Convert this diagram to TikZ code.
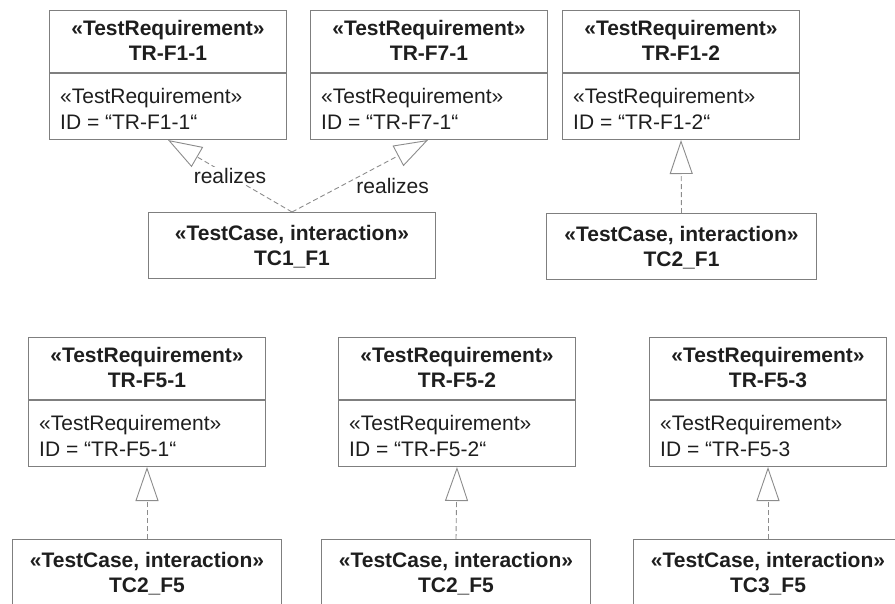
\documentclass[tikz,border=0pt]{standalone}
\usepackage{fontspec}
\setmainfont{Liberation Sans}
\usetikzlibrary{arrows.meta}
\definecolor{linegray}{HTML}{7F7F7F}
\definecolor{dashgray}{HTML}{8C8C8C}
\definecolor{txt}{HTML}{1E1E1E}
% requirement box: #1 name, #2 left x, #3 top y, #4 name line, #5 ID line
\newcommand\mkreq[5]{%
  \node[frame, minimum width=237pt, minimum height=62pt, anchor=north west] (#1h) at (#2,#3) {};
  \node[frame, minimum width=237pt, minimum height=66pt, anchor=north west] (#1) at (#1h.south west) {};
  \node[boldtxt] (#1a) at ([yshift=-25pt]#1h.north) {«TestRequirement»};
  \node[boldtxt] (#1b) at ([yshift=-50.5pt]#1h.north) {#4};
  \node[regtxt, anchor=base west] (#1c) at ([xshift=11pt,yshift=-30.5pt]#1.north west) {«TestRequirement»};
  \node[regtxt, anchor=base west] (#1d) at ([xshift=11pt,yshift=-56pt]#1.north west) {#5};
}
% test case box: #1 name, #2 left x, #3 top y, #4 width, #5 name line
\newcommand\mktc[5]{%
  \node[frame, minimum width=#4pt, minimum height=66pt, anchor=north west] (#1) at (#2,#3) {};
  \node[boldtxt] (#1a) at ([yshift=-28.5pt]#1.north) {«TestCase, interaction»};
  \node[boldtxt] (#1b) at ([yshift=-53.5pt]#1.north) {#5};
}
\begin{document}
\begin{tikzpicture}[x=1pt,y=-1pt,
  frame/.style={draw=linegray, line width=1pt, inner sep=0pt},
  boldtxt/.style={text=txt, inner sep=0pt, anchor=base, font=\bfseries\fontsize{21}{25}\selectfont},
  regtxt/.style={text=txt, inner sep=0pt, anchor=base, font=\fontsize{21}{25}\selectfont},
  real/.style={draw=dashgray, line width=0.9pt, dash pattern=on 5pt off 3pt,
    -{Triangle[length=34pt, width=23pt, fill=white]}},
  lbl/.style={text=txt, inner sep=1pt, font=\fontsize{21}{25}\selectfont}
]
\useasboundingbox (0,0) rectangle (895,603);
\clip (0,0) rectangle (895,603);

% top row
\mkreq{r1}{49}{10}{TR-F1-1}{ID = “TR-F1-1“}
\mkreq{r2}{310}{10}{TR-F7-1}{ID = “TR-F7-1“}
\mkreq{r3}{562}{10}{TR-F1-2}{ID = “TR-F1-2“}
\mktc{tc1}{148}{212}{287}{TC1\_F1}
\mktc{tc2}{546}{213}{270}{TC2\_F1}

% bottom row
\mkreq{r4}{28}{337}{TR-F5-1}{ID = “TR-F5-1“}
\mkreq{r5}{338}{337}{TR-F5-2}{ID = “TR-F5-2“}
\mkreq{r6}{649}{337}{TR-F5-3}{ID = “TR-F5-3}
\mktc{tc3}{12}{539}{269}{TC2\_F5}
\mktc{tc4}{321}{539}{269}{TC2\_F5}
\mktc{tc5}{633}{539}{269}{TC3\_F5}

% realizations
\draw[real] (tc1.north) -- node[lbl, fill=white, pos=0.5] (l1) {realizes} ([xshift=119pt]r1.south west);
\draw[real] (tc1.north) -- node[lbl, pos=0.74, yshift=-27pt] (l2) {realizes} ([xshift=118pt]r2.south west);
\draw[real] (tc2.north) -- (r3.south);
\draw[real] (tc3.north) -- (r4.south);
\draw[real] (tc4.north) -- (r5.south);
\draw[real] (tc5.north) -- (r6.south);
\end{tikzpicture}
\end{document}
